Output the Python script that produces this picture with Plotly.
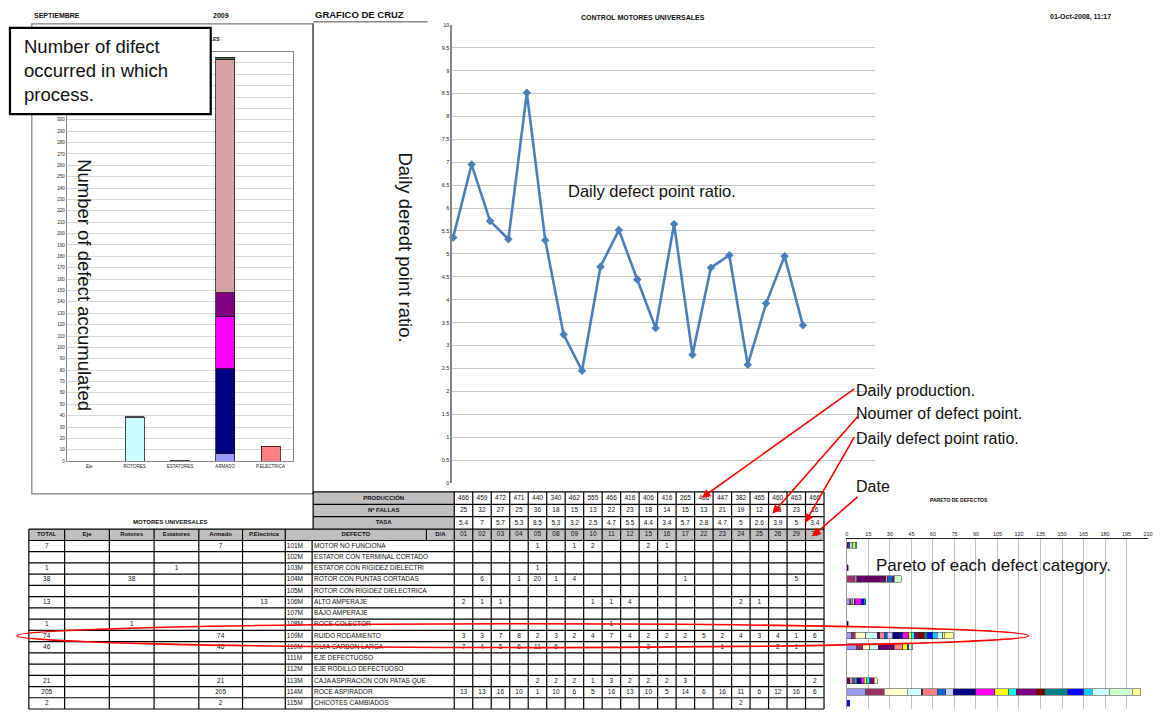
import plotly.graph_objects as go

W, H = 1163, 719
FONT = "Arial, Liberation Sans, sans-serif"

# ---------------- data ----------------
days = ["01", "02", "03", "04", "05", "08", "09", "10", "11", "12",
        "15", "16", "17", "22", "23", "24", "25", "26", "29", "30"]
produccion = [466, 459, 472, 471, 440, 340, 462, 555, 466, 416,
              406, 416, 265, 466, 447, 382, 465, 460, 463, 466]
fallas = [25, 32, 27, 25, 36, 18, 15, 13, 22, 23,
          18, 14, 15, 13, 21, 19, 12, 18, 23, 16]
tasa = [5.36, 6.95, 5.72, 5.32, 8.52, 5.30, 3.24, 2.45, 4.72, 5.52,
        4.44, 3.38, 5.65, 2.80, 4.70, 4.97, 2.58, 3.92, 4.95, 3.44]

processes = ["Eje", "Rotores", "Estatores", "Armado", "P.Electrica"]
process_labels = ["Eje", "ROTORES", "ESTATORES", "ARMADO", "P.ELECTRICA"]

codes = ["101M", "102M", "103M", "104M", "105M", "106M", "107M", "108M",
         "109M", "110M", "111M", "112M", "113M", "114M", "115M"]
defects = ["MOTOR NO FUNCIONA", "ESTATOR CON TERMINAL CORTADO",
           "ESTATOR CON RIGIDEZ DIELECTRICA", "ROTOR CON PUNTAS CORTADAS",
           "ROTOR CON RIGIDEZ DIELECTRICA", "ALTO AMPERAJE", "BAJO AMPERAJE",
           "ROCE COLECTOR", "RUIDO RODAMIENTO", "GUIA CARBON LARGA",
           "EJE DEFECTUOSO", "EJE RODILLO DEFECTUOSO",
           "CAJA ASPIRACION CON PATAS QUEBRADAS", "ROCE ASPIRADOR",
           "CHICOTES CAMBIADOS"]
totals = [7, 0, 1, 38, 0, 13, 0, 1, 74, 46, 0, 0, 21, 205, 2]
proc_eje = [0, 0, 0, 0, 0, 0, 0, 0, 0, 0, 0, 0, 0, 0, 0]
proc_rotores = [0, 0, 0, 38, 0, 0, 0, 1, 0, 0, 0, 0, 0, 0, 0]
proc_estatores = [0, 0, 1, 0, 0, 0, 0, 0, 0, 0, 0, 0, 0, 0, 0]
proc_armado = [7, 0, 0, 0, 0, 0, 0, 0, 74, 46, 0, 0, 21, 205, 2]
proc_pelectrica = [0, 0, 0, 0, 0, 13, 0, 0, 0, 0, 0, 0, 0, 0, 0]

defect_by_day = [
    [0, 0, 0, 0, 1, 0, 1, 2, 0, 0, 2, 1, 0, 0, 0, 0, 0, 0, 0, 0],
    [0, 0, 0, 0, 0, 0, 0, 0, 0, 0, 0, 0, 0, 0, 0, 0, 0, 0, 0, 0],
    [0, 0, 0, 0, 1, 0, 0, 0, 0, 0, 0, 0, 0, 0, 0, 0, 0, 0, 0, 0],
    [0, 6, 0, 1, 20, 1, 4, 0, 0, 0, 0, 0, 1, 0, 0, 0, 0, 0, 5, 0],
    [0, 0, 0, 0, 0, 0, 0, 0, 0, 0, 0, 0, 0, 0, 0, 0, 0, 0, 0, 0],
    [2, 1, 1, 0, 0, 0, 0, 1, 1, 4, 0, 0, 0, 0, 0, 2, 1, 0, 0, 0],
    [0, 0, 0, 0, 0, 0, 0, 0, 0, 0, 0, 0, 0, 0, 0, 0, 0, 0, 0, 0],
    [0, 0, 0, 0, 0, 0, 0, 0, 1, 0, 0, 0, 0, 0, 0, 0, 0, 0, 0, 0],
    [3, 3, 7, 8, 2, 3, 2, 4, 7, 4, 2, 2, 2, 5, 2, 4, 3, 4, 1, 6],
    [7, 4, 5, 6, 11, 6, 0, 0, 0, 0, 3, 0, 0, 0, 1, 0, 0, 2, 1, 0],
    [0, 0, 0, 0, 0, 0, 0, 0, 0, 0, 0, 0, 0, 0, 0, 0, 0, 0, 0, 0],
    [0, 0, 0, 0, 0, 0, 0, 0, 0, 0, 0, 0, 0, 0, 0, 0, 0, 0, 0, 0],
    [0, 0, 0, 0, 2, 2, 2, 1, 3, 2, 2, 2, 3, 0, 0, 0, 0, 0, 0, 2],
    [13, 13, 16, 10, 1, 10, 6, 5, 16, 13, 10, 5, 14, 6, 16, 11, 6, 12, 16, 6],
    [0, 0, 0, 0, 0, 0, 0, 0, 0, 0, 0, 0, 0, 0, 0, 2, 0, 0, 0, 0],
]

excel_colors = ["#9999FF", "#993366", "#FFFFCC", "#CCFFFF", "#660066",
                "#FF8080", "#0066CC", "#CCCCFF", "#000080", "#FF00FF",
                "#FFFF00", "#00FFFF", "#800080", "#800000", "#008080",
                "#0000FF", "#00CCFF", "#CCFFFF", "#CCFFCC", "#FFFF99"]
defect_colors = ["#9999FF", "#993366", "#FFFFCC", "#CCFFFF", "#660066",
                 "#FF8080", "#0066CC", "#CCCCFF", "#000080", "#FF00FF",
                 "#FFFF00", "#00FFFF", "#800080", "#D4A3A3", "#5E6F56"]

bar_ticks = list(range(0, 361, 10))
bar_ticklabels_max = 300


def X(px):
    return px / W


def Y(py):
    return 1 - py / H


def nz(v):
    return v if v else None


fig = go.Figure()

# ---------------- left stacked bar chart ----------------
proc_cols = [proc_eje, proc_rotores, proc_estatores, proc_armado, proc_pelectrica]
for i, name in enumerate(defects):
    fig.add_trace(go.Bar(
        x=process_labels, y=[nz(col[i]) for col in proc_cols], name=name,
        marker=dict(color=defect_colors[i], line=dict(color="black", width=0.7)),
        width=0.42, xaxis="x", yaxis="y", showlegend=False, hoverinfo="skip"))

# ---------------- line chart ----------------
fig.add_trace(go.Scatter(
    x=days, y=tasa, mode="lines+markers", xaxis="x2", yaxis="y2",
    line=dict(color="#4A7EBB", width=2.6),
    marker=dict(symbol="diamond", size=6.5, color="#4A7EBB"),
    showlegend=False, cliponaxis=False))

# ---------------- pareto (stacked horizontal) ----------------
for d, day in enumerate(days):
    fig.add_trace(go.Bar(
        y=list(range(len(defects))), x=[nz(row[d]) for row in defect_by_day],
        orientation="h", width=0.55, xaxis="x3", yaxis="y3",
        marker=dict(color=excel_colors[d], line=dict(color="#333", width=0.5)),
        showlegend=False, hoverinfo="skip"))

# ---------------- table geometry ----------------
shapes = []
annotations = []


def line(x0, y0, x1, y1, color="black", width=1.2, layer="above"):
    shapes.append(dict(type="line", xref="paper", yref="paper",
                       x0=X(x0), y0=Y(y0), x1=X(x1), y1=Y(y1),
                       line=dict(color=color, width=width), layer=layer))


def rect(x0, y0, x1, y1, fill="rgba(0,0,0,0)", lc="rgba(0,0,0,0)", lw=0, layer="below"):
    shapes.append(dict(type="rect", xref="paper", yref="paper",
                       x0=X(x0), y0=Y(y0), x1=X(x1), y1=Y(y1),
                       fillcolor=fill, line=dict(color=lc, width=lw), layer=layer))


GRAY = "#BFBFBF"
left_cols = [27, 63, 108, 153, 198, 242, 285]
DAY_X0, DAY_W = 455, 18.6
day_edges = [DAY_X0 + DAY_W * k for k in range(len(days) + 1)]
X_END = day_edges[-1]
top_rows = [493, 505.5, 518, 530.5, 542]
ROW_H = 11.33
data_rows = [542 + ROW_H * k for k in range(len(defects) + 1)]
Y_END = data_rows[-1]

# fills
rect(313, top_rows[0], DAY_X0, top_rows[3], fill=GRAY)
rect(285, top_rows[3], X_END, top_rows[4], fill=GRAY)
rect(left_cols[0], top_rows[3], left_cols[-1], top_rows[4], fill=GRAY)

# horizontal lines
for yy in top_rows[:3]:
    line(313, yy, X_END, yy)
line(left_cols[0], top_rows[3], X_END, top_rows[3])
for yy in data_rows:
    line(left_cols[0], yy, X_END, yy)
# vertical lines
line(313, top_rows[0], 313, top_rows[3])
for xx in day_edges:
    line(xx, top_rows[0], xx, Y_END)
for xx in left_cols:
    line(xx, top_rows[3], xx, Y_END)
line(312, data_rows[0], 312, Y_END)
line(427, top_rows[3], 427, top_rows[4])

# texts
cx, cy, ct = [], [], []
lx, ly, lt = [], [], []
hx, hy, ht = [], [], []


def fmt(v):
    return f"{round(v, 1):g}"


day_centers = [(day_edges[k] + day_edges[k + 1]) / 2 for k in range(len(days))]
row_c = [(top_rows[k] + top_rows[k + 1]) / 2 for k in range(4)]
for lbl, yy in zip(["PRODUCCIÓN", "Nº FALLAS", "TASA"], row_c[:3]):
    hx.append((313 + DAY_X0) / 2); hy.append(yy); ht.append(lbl)
for k in range(len(days)):
    cx += [day_centers[k]] * 4
    cy += row_c
    ct += [str(produccion[k]), str(fallas[k]), fmt(tasa[k]), days[k]]
hx += [356, 441]; hy += [row_c[3]] * 2; ht += ["DEFECTO", "D/A"]
for k, lbl in enumerate(["TOTAL"] + processes):
    hx.append((left_cols[k] + left_cols[k + 1]) / 2); hy.append(row_c[3]); ht.append(lbl)

for r in range(len(defects)):
    yy = (data_rows[r] + data_rows[r + 1]) / 2
    vals = [totals[r]] + [col[r] for col in proc_cols]
    for k, v in enumerate(vals):
        if v:
            cx.append((left_cols[k] + left_cols[k + 1]) / 2); cy.append(yy); ct.append(str(v))
    lx += [286.5, 314]; ly += [yy, yy]; lt += [codes[r], defects[r][:29]]
    for d in range(len(days)):
        if defect_by_day[r][d]:
            cx.append(day_centers[d]); cy.append(yy); ct.append(str(defect_by_day[r][d]))

txtfont = dict(size=6.5, family=FONT, color="#111")
fig.add_trace(go.Scatter(x=cx, y=cy, text=ct, mode="text", textposition="middle center",
                         textfont=txtfont, xaxis="x4", yaxis="y4", hoverinfo="skip",
                         showlegend=False, cliponaxis=False))
fig.add_trace(go.Scatter(x=lx, y=ly, text=lt, mode="text", textposition="middle right",
                         textfont=txtfont, xaxis="x4", yaxis="y4", hoverinfo="skip",
                         showlegend=False, cliponaxis=False))
fig.add_trace(go.Scatter(x=hx, y=hy, text=["<b>%s</b>" % t for t in ht], mode="text",
                         textposition="middle center",
                         textfont=dict(size=6, family=FONT, color="#111"),
                         xaxis="x4", yaxis="y4", hoverinfo="skip",
                         showlegend=False, cliponaxis=False))
# left chart title, mostly hidden behind the callout box (drawn below the box)
fig.add_trace(go.Scatter(x=[219], y=[37], text=["<b>MOTORES UNIVERSALES</b>"], mode="text",
                         textposition="middle left",
                         textfont=dict(size=5, family=FONT, color="#111"),
                         xaxis="x4", yaxis="y4", hoverinfo="skip",
                         showlegend=False, cliponaxis=False))

# ---------------- frames ----------------
rect(30, 21, 313, 495, lc="#7F7F7F", lw=1.2, layer="below")
line(313, 21, 313, 495, color="#555", width=1.5, layer="below")
line(313, 19, 428, 19, color="#222", width=0.8)


def text(px, py, s, size, xanchor="left", angle=0, color="#111", bold=False):
    annotations.append(dict(x=X(px), y=Y(py), xref="paper", yref="paper",
                            text=("<b>%s</b>" % s) if bold else s, showarrow=False,
                            xanchor=xanchor, yanchor="middle", textangle=angle,
                            font=dict(size=size, family=FONT, color=color)))


text(30, 13, "SEPTIEMBRE", 7, bold=True)
text(210, 13, "2009", 7, bold=True)
text(313, 12, "GRAFICO DE CRUZ", 9.5, bold=True)
text(645, 15, "CONTROL MOTORES UNIVERSALES", 7, xanchor="center", bold=True)
text(1052, 14, "01-Oct-2008, 11:17", 7, bold=True)
text(170, 523, "MOTORES UNIVERSALES", 6, xanchor="center", bold=True)
text(963, 501, "PARETO DE DEFECTOS", 5, xanchor="center", bold=True)

# callout box
rect(8, 25, 210, 112, fill="white", lc="black", lw=2.2, layer="above")
annotations.append(dict(x=X(20), y=Y(31), xref="paper", yref="paper",
                        text="Number of difect<br>occurred in which<br>process.",
                        showarrow=False, xanchor="left", yanchor="top", align="left",
                        font=dict(size=18.5, family=FONT, color="#111")))

text(83, 284, "Number of defect accumulated", 18.5, xanchor="center", angle=90)
text(405, 246, "Daily deredt point ratio.", 18.5, xanchor="center", angle=90)
text(567, 190, "Daily defect point ratio.", 16.5)
text(857, 391, "Daily production.", 16)
text(857, 414, "Noumer of defect point.", 16)
text(857, 439, "Daily defect point ratio.", 16)
text(857, 488, "Date", 16)
text(877, 567, "Pareto of each defect category.", 17)

# red arrows
for (hxp, hyp, tx, ty) in [(704, 499, 858, 389), (775, 515, 862, 416),
                           (808, 524, 858, 437), (815, 538, 862, 497)]:
    annotations.append(dict(x=X(hxp), y=Y(hyp), xref="paper", yref="paper",
                            ax=tx - hxp, ay=ty - hyp, text="", showarrow=True,
                            arrowhead=2, arrowsize=1.1, arrowwidth=1.6, arrowcolor="#FF0000"))

# red ellipse
shapes.append(dict(type="circle", xref="paper", yref="paper",
                   x0=X(15), x1=X(1033), y0=Y(626), y1=Y(650),
                   line=dict(color="#FF0000", width=1.6), layer="above"))

fig.update_layout(
    width=W, height=H, margin=dict(l=0, r=0, t=0, b=0),
    paper_bgcolor="white", plot_bgcolor="rgba(0,0,0,0)",
    barmode="stack", showlegend=False,
    xaxis=dict(domain=[X(65), X(293)], anchor="y", tickfont=dict(size=4.5, family=FONT, color="#222"),
               showline=True, linecolor="#888", mirror=True, ticks=""),
    yaxis=dict(domain=[Y(462), Y(49)], anchor="x", range=[0, 360],
               tickmode="array", tickvals=bar_ticks,
               ticktext=[str(v) if v <= bar_ticklabels_max else "" for v in bar_ticks],
               tickfont=dict(size=4.5, family=FONT, color="#222"),
               showgrid=True, gridcolor="#D9D9D9", showline=True, linecolor="#888",
               mirror=True, zeroline=False, ticks=""),
    xaxis2=dict(domain=[X(453), X(878)], anchor="y2", type="category",
                range=[-0.05, 22.9], showgrid=False, showticklabels=False,
                zeroline=False, showline=False, ticks=""),
    yaxis2=dict(domain=[Y(484), Y(22)], anchor="x2", range=[0, 10], dtick=0.5,
                tickfont=dict(size=5.5, family=FONT, color="#222"),
                showgrid=True, gridcolor="#C8C8C8", gridwidth=1, zeroline=False,
                showline=True, linecolor="#868686", linewidth=1.5, ticks=""),
    xaxis3=dict(domain=[X(850), X(1153)], anchor="y3", side="top", range=[0, 210],
                dtick=15, tickfont=dict(size=5.5, family=FONT, color="#222"),
                showgrid=True, gridcolor="#C0C0C0", showline=True, linecolor="#222",
                zeroline=False, ticks=""),
    yaxis3=dict(domain=[Y(Y_END), Y(541)], anchor="x3", range=[14.5, -0.5],
                showticklabels=False, showgrid=False, zeroline=False,
                showline=True, linecolor="#999", ticks=""),
    xaxis4=dict(domain=[0, 1], anchor="y4", range=[0, W], visible=False),
    yaxis4=dict(domain=[0, 1], anchor="x4", range=[H, 0], visible=False),
    shapes=shapes, annotations=annotations,
)

fig.write_html("out.html", config={"displayModeBar": False},
               post_script="document.body.style.margin='0px';")
